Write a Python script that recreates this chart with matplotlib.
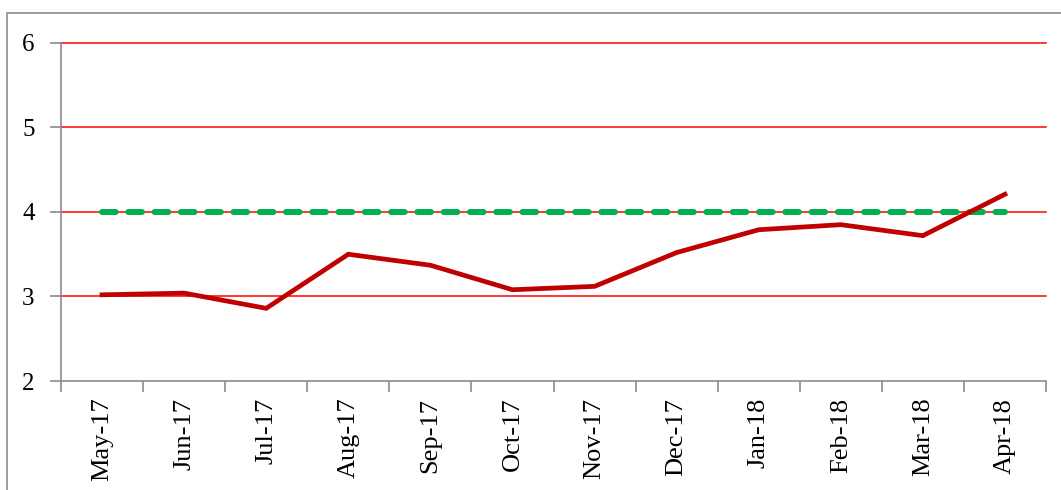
import matplotlib.pyplot as plt
from matplotlib.patches import Rectangle

months = ["May-17", "Jun-17", "Jul-17", "Aug-17", "Sep-17", "Oct-17",
          "Nov-17", "Dec-17", "Jan-18", "Feb-18", "Mar-18", "Apr-18"]
actual = [3.02, 3.04, 2.86, 3.50, 3.37, 3.08, 3.12, 3.52, 3.79, 3.85, 3.72, 4.21]
target = [4, 4, 4, 4, 4, 4, 4, 4, 4, 4, 4, 4]
y_ticks = [2, 3, 4, 5, 6]

plt.rcParams["font.family"] = ["Liberation Serif", "DejaVu Serif"]

W, H = 1061, 490
fig = plt.figure(figsize=(W / 100, H / 100), dpi=100)

# outer chart frame (runs off the right/bottom edge like the source)
fig.patches.append(Rectangle((7 / W, -0.1), 1.2, 1 - 13 / H + 0.1,
                             transform=fig.transFigure, fill=False,
                             edgecolor="#8c8c8c", linewidth=1.2))

ax = fig.add_axes([61 / W, 1 - 381 / H, (1046 - 61) / W, (381 - 43) / H])

x = list(range(len(months)))

for v in y_ticks[1:]:
    ax.axhline(v, color="#ff0000", linewidth=1.1, zorder=1, clip_on=False)

ax.plot(x, target, color="#00b050", linewidth=4.3, linestyle=(0, (2.3, 2.1)),
        dash_capstyle="round", zorder=3)
ax.plot(x, actual, color="#c00000", linewidth=3.4, solid_joinstyle="miter", zorder=4)

ax.set_xlim(-0.5, len(months) - 0.5)
ax.set_ylim(2, 6)
ax.set_yticks(y_ticks)
ax.set_yticklabels([str(v) for v in y_ticks])

# ticks between categories, labels centred on categories
ax.set_xticks([i - 0.5 for i in range(len(months) + 1)])
ax.set_xticklabels([])
ax.set_xticks(x, minor=True)
ax.set_xticklabels(months, minor=True, rotation=90, fontsize=19)
ax.tick_params(axis="x", which="minor", length=0, pad=12)
ax.tick_params(axis="x", which="major", length=8, color="#8c8c8c", width=1.2)
ax.tick_params(axis="y", length=8, color="#8c8c8c", width=1.2, labelsize=18, pad=11)

for s in ["top", "right"]:
    ax.spines[s].set_visible(False)
for s in ["left", "bottom"]:
    ax.spines[s].set_color("#8c8c8c")
    ax.spines[s].set_linewidth(1.2)

fig.savefig("out.png", dpi=100)
